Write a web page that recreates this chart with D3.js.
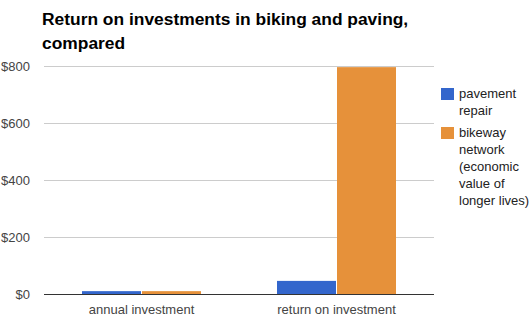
<!DOCTYPE html>
<html>
<head>
<meta charset="utf-8">
<script src="https://cdn.jsdelivr.net/npm/d3@7"></script>
<style>
  body { margin: 0; background: #fff; }
  svg { display: block; font-family: Arial, "Liberation Sans", sans-serif; }
</style>
</head>
<body>
<svg id="chart" width="531" height="334"></svg>
<script>
const categories = ["annual investment", "return on investment"];
const seriesNames = ["pavement repair", "bikeway network (economic value of longer lives)"];
const pavementRepair = [10, 46];
const bikewayNetwork = [10, 796];
const yTicks = [0, 200, 400, 600, 800];
const yTickLabels = ["$0", "$200", "$400", "$600", "$800"];
const colors = ["#3366cc", "#e6913a"];
const legendLines = [["pavement", "repair"], ["bikeway", "network", "(economic", "value of", "longer lives)"]];

(function () {
const svg = d3.select("#chart");
const pLeft = 44, pRight = 434, pTop = 66, pBottom = 294;

const x0 = d3.scaleBand().domain(categories).range([pLeft, pRight]).padding(0);
const x1 = d3.scaleBand().domain(seriesNames).range([38, 158]).padding(0);
const y = d3.scaleLinear().domain([0, 800]).range([pBottom, pTop]);

// Title
const title = svg.append("text").attr("x", 42).attr("y", 25)
  .attr("font-size", 17.4).attr("font-weight", "bold").attr("fill", "#000");
title.append("tspan").attr("x", 42).attr("y", 25).text("Return on investments in biking and paving,");
title.append("tspan").attr("x", 42).attr("y", 49).text("compared");

// Gridlines
svg.append("g").selectAll("line").data(yTicks.filter(d => d > 0)).join("line")
  .attr("x1", pLeft).attr("x2", pRight)
  .attr("y1", d => Math.round(y(d)) + 0.5).attr("y2", d => Math.round(y(d)) + 0.5)
  .attr("stroke", "#cccccc").attr("stroke-width", 1);

// Y axis labels
svg.append("g").selectAll("text").data(yTicks).join("text")
  .attr("x", 30).attr("y", d => y(d)).attr("dy", "0.35em")
  .attr("text-anchor", "end").attr("font-size", 13).attr("fill", "#444")
  .text((d, i) => yTickLabels[i]);

// Bars
const seriesData = [pavementRepair, bikewayNetwork];
const groups = svg.append("g").selectAll("g").data(categories).join("g")
  .attr("transform", d => `translate(${x0(d)},0)`);
groups.selectAll("rect").data((c, ci) => seriesNames.map((s, si) => ({s, si, v: seriesData[si][ci]})))
  .join("rect")
  .attr("x", d => x1(d.s))
  .attr("width", x1.bandwidth() - 1)
  .attr("y", d => y(d.v))
  .attr("height", d => y(0) - y(d.v))
  .attr("fill", d => colors[d.si]);

// Baseline
svg.append("line").attr("x1", pLeft).attr("x2", pRight)
  .attr("y1", pBottom + 0.5).attr("y2", pBottom + 0.5)
  .attr("stroke", "#333333").attr("stroke-width", 1);

// X axis labels
svg.append("g").selectAll("text").data(categories).join("text")
  .attr("x", d => x0(d) + x0.bandwidth() / 2).attr("y", 314)
  .attr("text-anchor", "middle").attr("font-size", 13).attr("fill", "#444")
  .text(d => d);

// Legend
const legendY = [88, 127];
const lg = svg.append("g");
seriesNames.forEach((s, i) => {
  lg.append("rect").attr("x", 441).attr("y", legendY[i]).attr("width", 13).attr("height", 12)
    .attr("fill", colors[i]);
  const t = lg.append("text").attr("font-size", 13).attr("fill", "#222");
  legendLines[i].forEach((line, j) => {
    t.append("tspan").attr("x", 459).attr("y", legendY[i] + 10 + j * 17).text(line);
  });
});
})();
</script>
</body>
</html>
